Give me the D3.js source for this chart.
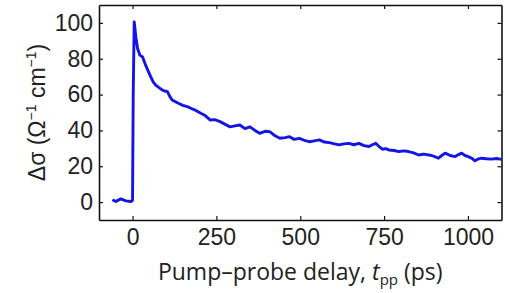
<!DOCTYPE html>
<html>
<head>
<meta charset="utf-8">
<script src="https://cdn.jsdelivr.net/npm/d3@7"></script>
<style>
  body { margin: 0; background: #fff; }
  .tick text { font-family: "Liberation Sans", Arial, sans-serif; font-size: 23px; fill: #222; }
  .axis path, .axis line { stroke: #111; }
</style>
</head>
<body>
<svg id="chart"></svg>
<script>
// delay (ps) and photoconductivity change
var delay_ps = [-60,-50,-35,-20,-5,0,2,5,10,15,22,30,39,47,54,62,69,78,89,96,104,111,118,128,138,150,158,167,172,185,202,215,232,245,261,275,291,305,320,335,350,365,379,395,409,425,439,455,468,482,497,512,527,542,557,572,587,602,616,630,645,660,675,690,705,715,725,735,745,755,764,780,794,808,823,838,853,868,883,898,912,922,932,947,962,972,981,991,1001,1011,1021,1030,1040,1055,1070,1085,1100];
var delta_sigma = [1.3,0.3,1.8,0.7,0.3,1,60,100.5,92,85.7,82,81,76.4,73,70,67,65.3,64,62.5,62,61.6,59,57,56,55,54,53.5,53,52.5,51.5,49.7,48.5,45.8,46,44.9,43.5,42,42.5,43,41,42,40,38.4,39.5,39.3,37,35.6,36,36.5,35,35.6,34.5,33.7,34.2,34.7,33.5,33.2,32.5,31.9,32.5,32.8,32,32.8,31.5,31,32,32.8,31,29.5,29.8,29.1,28.8,28.2,28.6,28.2,27.5,26.3,26.8,26.3,25.6,24.5,26,27.3,26,25.4,26.5,27.3,26,25.4,24.5,23,24,24.5,24.2,24,24.3,23.8];

var x_ticks = [0, 250, 500, 750, 1000];
var y_ticks = [0, 20, 40, 60, 80, 100];

var margin = {top: 5, right: 3.5, bottom: 73, left: 99},
    width = 505 - margin.left - margin.right,
    height = 293 - margin.top - margin.bottom;

var svg = d3.select("#chart")
    .attr("width", 505)
    .attr("height", 293);

var g = svg.append("g")
    .attr("transform", "translate(" + margin.left + "," + margin.top + ")");

var xScale = d3.scaleLinear().domain([-100, 1100]).range([0, width]);
var yScale = d3.scaleLinear().domain([-10, 110]).range([height, 0]);

// axes, ticks pointing inward
g.append("g")
    .attr("class", "axis")
    .attr("transform", "translate(0," + height + ")")
    .call(d3.axisBottom(xScale).tickValues(x_ticks).tickFormat(d3.format("d"))
        .tickSizeInner(-4).tickSizeOuter(0).tickPadding(9));

g.append("g")
    .attr("class", "axis")
    .call(d3.axisTop(xScale).tickValues(x_ticks).tickSizeInner(-4).tickSizeOuter(0).tickFormat(""));

g.append("g")
    .attr("class", "axis")
    .call(d3.axisLeft(yScale).tickValues(y_ticks).tickSizeInner(-4).tickSizeOuter(0).tickPadding(6));

g.append("g")
    .attr("class", "axis")
    .attr("transform", "translate(" + width + ",0)")
    .call(d3.axisRight(yScale).tickValues(y_ticks).tickSizeInner(-4).tickSizeOuter(0).tickFormat(""));

g.selectAll(".axis path").attr("stroke-width", 1.6);
g.selectAll(".axis line").attr("stroke-width", 1.2);

// clip
g.append("clipPath").attr("id", "clip")
    .append("rect").attr("width", width).attr("height", height);

var line = d3.line()
    .x(function(d) { return xScale(d[0]); })
    .y(function(d) { return yScale(d[1]); });

g.append("path")
    .datum(d3.zip(delay_ps, delta_sigma))
    .attr("clip-path", "url(#clip)")
    .attr("fill", "none")
    .attr("stroke", "#1414e6")
    .attr("stroke-width", 2.9)
    .attr("stroke-linejoin", "round")
    .attr("d", line);

// axis labels
var xl = svg.append("text")
    .attr("x", margin.left + xScale(500))
    .attr("y", 280)
    .attr("text-anchor", "middle")
    .style("font-family", "'Open Sans', sans-serif")
    .style("font-size", "23px")
    .style("fill", "#222");
xl.append("tspan").text("Pump\u2013probe delay, ");
xl.append("tspan").style("font-style", "italic").text("t");
xl.append("tspan").attr("dy", 5).style("font-size", "15px").text("pp");
xl.append("tspan").attr("dy", -5).text(" (ps)");

var yl = svg.append("text")
    .attr("transform", "translate(45," + (margin.top + height / 2) + ") rotate(-90)")
    .attr("text-anchor", "middle")
    .style("font-family", "'Liberation Sans', Arial, sans-serif")
    .style("font-size", "23px")
    .style("fill", "#222");
yl.append("tspan").text("\u0394\u03c3 (\u03a9");
yl.append("tspan").attr("dy", -9).style("font-size", "14px").text("\u22121");
yl.append("tspan").attr("dy", 9).text(" cm");
yl.append("tspan").attr("dy", -9).style("font-size", "14px").text("\u22121");
yl.append("tspan").attr("dy", 9).text(")");
</script>
</body>
</html>
